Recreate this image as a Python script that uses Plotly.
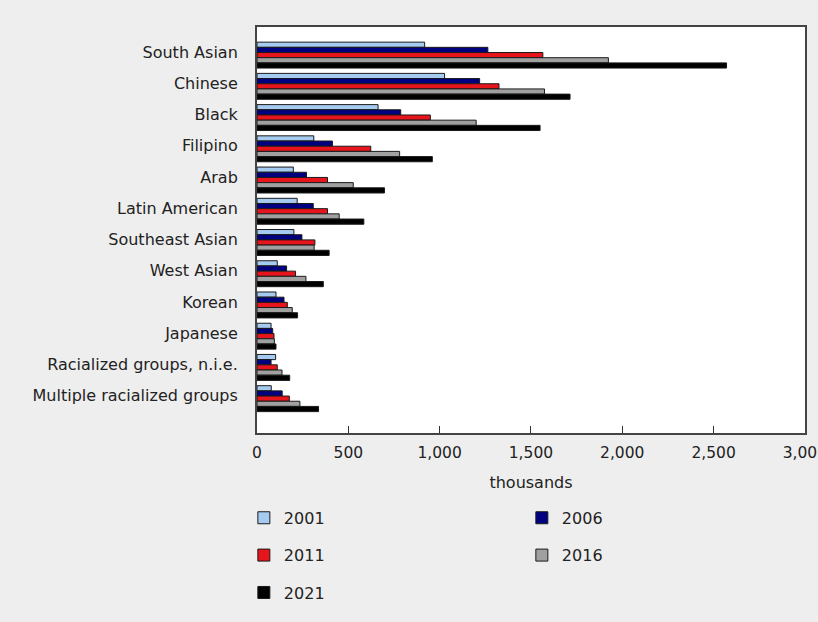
import plotly.graph_objects as go

# categories, top to bottom
groups = ["South Asian", "Chinese", "Black", "Filipino", "Arab", "Latin American",
          "Southeast Asian", "West Asian", "Korean", "Japanese",
          "Racialized groups, n.i.e.", "Multiple racialized groups"]

# population in thousands
y2001 = [918, 1027, 663, 311, 199, 220, 202, 111, 104, 77, 102, 78]
y2006 = [1264, 1219, 787, 413, 271, 308, 246, 162, 148, 86, 77, 138]
y2011 = [1565, 1325, 949, 623, 386, 386, 317, 211, 166, 93, 111, 177]
y2016 = [1924, 1574, 1200, 781, 527, 450, 313, 268, 193, 95, 137, 235]
y2021 = [2571, 1714, 1550, 960, 698, 585, 395, 363, 222, 104, 179, 337]

years = ["2001", "2006", "2011", "2016", "2021"]
colors = ["#a6cbf0", "#000080", "#e8141c", "#a0a0a0", "#000000"]
legend_ids = ["legend", "legend", "legend2", "legend2", "legend3"]

font = dict(family="DejaVu Sans, Verdana, sans-serif", size=16, color="#222222")

fig = go.Figure()
for name, vals, col, lg in zip(years, [y2001, y2006, y2011, y2016, y2021], colors, legend_ids):
    fig.add_trace(go.Bar(
        y=list(range(len(groups))), x=vals, name=name, orientation="h",
        marker=dict(color=col, line=dict(color="#1a1a1a", width=1)),
        legend=lg,
    ))

# two entries per legend row, so each row gets its own legend box
legend_style = dict(orientation="h", x=-0.024, xanchor="left", yanchor="middle",
                    font=font, bgcolor="rgba(0,0,0,0)",
                    entrywidth=233, entrywidthmode="pixels", traceorder="normal")

fig.update_layout(
    barmode="group",
    bargap=0.17,
    bargroupgap=0,
    width=818, height=622,
    margin=dict(l=257, r=13, t=27, b=182),
    paper_bgcolor="#eeeeee",
    plot_bgcolor="#ffffff",
    font=font,
    legend=dict(y=-0.209, **legend_style),
    legend2=dict(y=-0.301, **legend_style),
    legend3=dict(y=-0.393, **legend_style),
    xaxis=dict(
        range=[0, 3000.5], tickvals=[0, 500, 1000, 1500, 2000, 2500, 3000],
        tickformat=",", ticks="inside", ticklen=7, tickcolor="#333333",
        tickfont=dict(size=15.5), ticklabelstandoff=4, ticklabeloverflow="allow",
        showgrid=False, zeroline=False,
        showline=True, linecolor="#444444", linewidth=2, mirror=True,
        title=dict(text="thousands", standoff=16, font=dict(size=16)),
        automargin=False,
    ),
    yaxis=dict(
        tickvals=list(range(len(groups))), ticktext=groups,
        range=[12.1, -0.9], ticks="", ticklabelstandoff=14, ticklabelshift=3,
        showgrid=False, zeroline=False,
        showline=True, linecolor="#444444", linewidth=2, mirror=True,
        automargin=False,
    ),
)

# drop the browser's default page margin so the figure fills the window
fig.write_html("out.html", config={"displayModeBar": False},
               post_script="document.body.style.margin='0';"
               "document.body.style.background='#eeeeee';")
